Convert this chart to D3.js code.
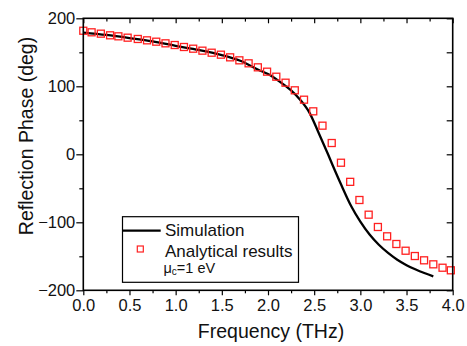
<!DOCTYPE html>
<html>
<head>
<meta charset="utf-8">
<script src="https://cdn.jsdelivr.net/npm/d3@7"></script>
<style>
    body { margin: 0; background: #fff; }
    svg { display: block; font-family: 'Liberation Sans', Arial, sans-serif; }
</style>
</head>
<body>
<div id="chart"></div>
<script>

// simulation curve (THz, deg)
var simFreq  = [ 0.0, 0.25, 0.5, 0.75, 1.0, 1.25, 1.5, 1.7, 1.9, 2.0, 2.13, 2.25, 2.35, 2.45, 2.55, 2.65, 2.7, 2.8, 2.9, 3.0, 3.1, 3.2, 3.3, 3.4, 3.5, 3.6, 3.7, 3.79 ];
var simPhase = [ 179, 175.5, 171, 166, 159.5, 153.5, 146, 137.5, 124, 118, 106.5, 94, 80, 61, 31, 0, -16, -47, -76, -99, -118, -133, -145, -155, -163, -169.5, -175, -179.5 ];

// analytical results (squares)
var anaFreq  = [ 0.0, 0.09, 0.19, 0.29, 0.38, 0.48, 0.59, 0.69, 0.79, 0.89, 0.99, 1.09, 1.19, 1.29, 1.39, 1.49, 1.59, 1.69, 1.79, 1.89, 1.99, 2.09, 2.19, 2.29, 2.39, 2.49, 2.59, 2.69, 2.79, 2.89, 2.99, 3.09, 3.19, 3.29, 3.39, 3.49, 3.59, 3.69, 3.79, 3.89, 3.98 ];
var anaPhase = [ 181.7, 179.4, 177.4, 175, 173.5, 171.5, 169.6, 167.6, 165.6, 163.2, 160.7, 157.8, 155.3, 152.4, 149.4, 146.5, 142.6, 138.2, 133.8, 127.9, 121.5, 114.1, 105.3, 94.1, 80.3, 63.2, 42.1, 16.6, -12.4, -40.5, -67.2, -88.8, -106.9, -120.6, -131.9, -141.8, -149.6, -155.9, -161.8, -166.8, -170.6 ];

var xMajor = [ 0, 0.5, 1, 1.5, 2, 2.5, 3, 3.5, 4 ];
var xMinor = [ 0.25, 0.75, 1.25, 1.75, 2.25, 2.75, 3.25, 3.75 ];
var yMajor = [ -200, -100, 0, 100, 200 ];
var yMinor = [ -150, -50, 50, 150 ];

var width = 467,
    height = 346;

var pLeft = 83.3, pRight = 452.7, pTop = 18.3, pBottom = 290.3;

var x = d3.scaleLinear().domain([ 0, 4 ]).range([ pLeft, pRight ]);
var y = d3.scaleLinear().domain([ -200, 200 ]).range([ pBottom, pTop ]);

var svg = d3.select('#chart').append('svg')
    .attr('width', width)
    .attr('height', height);

// axes

var fmtX = d3.format('.1f');

svg.append('g')
    .attr('transform', 'translate(0,' + pBottom + ')')
    .call( d3.axisBottom( x ).tickValues( xMajor ).tickSize( 5 ).tickPadding( 4 ).tickFormat( fmtX ) );

svg.append('g')
    .attr('transform', 'translate(0,' + pBottom + ')')
    .call( d3.axisBottom( x ).tickValues( xMinor ).tickSize( 3 ).tickFormat('') );

svg.append('g')
    .attr('transform', 'translate(' + pLeft + ',0)')
    .call( d3.axisLeft( y ).tickValues( yMajor ).tickSize( 7 ).tickPadding( 1 ).tickFormat( d3.format('d') ) );

svg.append('g')
    .attr('transform', 'translate(' + pLeft + ',0)')
    .call( d3.axisLeft( y ).tickValues( yMinor ).tickSize( 4 ).tickFormat('') );

// top and right: inward ticks, no labels

svg.append('g')
    .attr('transform', 'translate(0,' + pTop + ')')
    .call( d3.axisTop( x ).tickValues( xMajor ).tickSize( -5 ).tickFormat('') );

svg.append('g')
    .attr('transform', 'translate(0,' + pTop + ')')
    .call( d3.axisTop( x ).tickValues( xMinor ).tickSize( -3.3 ).tickFormat('') );

svg.append('g')
    .attr('transform', 'translate(' + pRight + ',0)')
    .call( d3.axisRight( y ).tickValues( yMajor.concat( yMinor ) ).tickSize( -6 ).tickFormat('') );

svg.selectAll('.domain').remove();
svg.selectAll('.tick line').attr('stroke', '#000').attr('stroke-width', 1.2);
svg.selectAll('.tick text')
    .attr('fill', '#111')
    .style('font-size', '16.5px');

// simulation line

var sim = simFreq.map( function ( d, i ) { return [ d, simPhase[ i ] ]; });

var line = d3.line()
    .x( function ( d ) { return x( d[0] ); })
    .y( function ( d ) { return y( d[1] ); })
    .curve( d3.curveMonotoneX );

svg.append('path')
    .datum( sim )
    .attr('d', line)
    .attr('fill', 'none')
    .attr('stroke', '#000')
    .attr('stroke-width', 2.3);

// analytical squares

var sq = 7;

svg.selectAll('.ana')
    .data( anaFreq.map( function ( d, i ) { return [ d, anaPhase[ i ] ]; }) )
    .enter().append('rect')
    .attr('class', 'ana')
    .attr('x', function ( d ) { return x( d[0] ) - sq / 2; })
    .attr('y', function ( d ) { return y( d[1] ) - sq / 2; })
    .attr('width', sq)
    .attr('height', sq)
    .attr('fill', 'none')
    .attr('stroke', '#ff2020')
    .attr('stroke-width', 1.3);

// frame

svg.append('rect')
    .attr('x', pLeft)
    .attr('y', pTop)
    .attr('width', pRight - pLeft)
    .attr('height', pBottom - pTop)
    .attr('fill', 'none')
    .attr('stroke', '#000')
    .attr('stroke-width', 1.6);

// axis titles

svg.append('text')
    .attr('x', 271)
    .attr('y', 337.5)
    .attr('text-anchor', 'middle')
    .style('font-size', '19.5px')
    .attr('fill', '#111')
    .text('Frequency (THz)');

svg.append('text')
    .attr('transform', 'translate(33,136) rotate(-90)')
    .attr('text-anchor', 'middle')
    .style('font-size', '19.5px')
    .attr('fill', '#111')
    .text('Reflection Phase (deg)');

// legend

var legend = svg.append('g');

legend.append('rect')
    .attr('x', 122.5)
    .attr('y', 216.7)
    .attr('width', 176)
    .attr('height', 65.6)
    .attr('fill', '#fff')
    .attr('stroke', '#000')
    .attr('stroke-width', 1.2);

legend.append('line')
    .attr('x1', 123)
    .attr('x2', 160.7)
    .attr('y1', 230.7)
    .attr('y2', 230.7)
    .attr('stroke', '#000')
    .attr('stroke-width', 2.3);

legend.append('rect')
    .attr('x', 140.3 - 3)
    .attr('y', 249 - 3)
    .attr('width', 6)
    .attr('height', 6)
    .attr('fill', 'none')
    .attr('stroke', '#ff2020')
    .attr('stroke-width', 1.2);

legend.append('text')
    .attr('x', 165)
    .attr('y', 236)
    .style('font-size', '17px')
    .attr('fill', '#111')
    .text('Simulation');

legend.append('text')
    .attr('x', 165)
    .attr('y', 256.7)
    .style('font-size', '17px')
    .attr('fill', '#111')
    .text('Analytical results');

var mu = legend.append('text')
    .attr('x', 163.5)
    .attr('y', 273.3)
    .style('font-size', '14.5px')
    .attr('fill', '#111');

mu.append('tspan').text('\u03BC');
mu.append('tspan').attr('dy', 2).style('font-size', '10px').text('c');
mu.append('tspan').attr('dy', -2).text('=1 eV');

</script>
</body>
</html>
